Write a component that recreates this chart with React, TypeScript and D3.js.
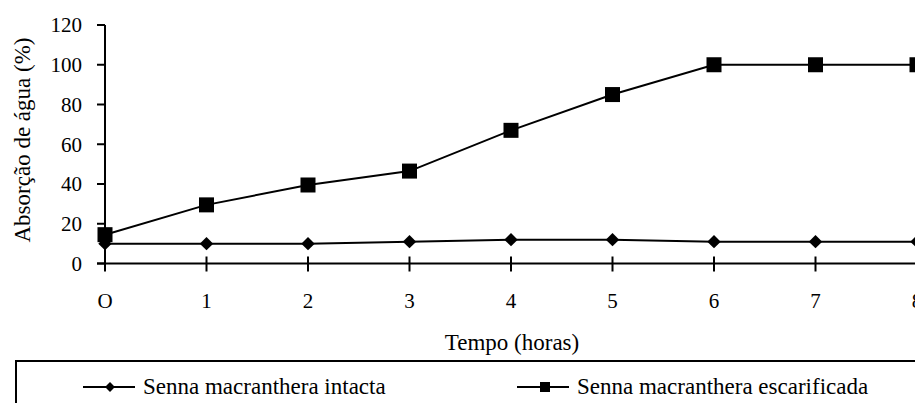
import React, { useRef, useEffect } from "react";
import * as d3 from "d3";

const hours = [0, 1, 2, 3, 4, 5, 6, 7, 8];
const hourLabels = ["O", "1", "2", "3", "4", "5", "6", "7", "8"];
const intacta = [10, 10, 10, 11, 12, 12, 11, 11, 11];
const escarificada = [14.5, 29.5, 39.5, 46.5, 67, 85, 100, 100, 100];
const yTicks = [0, 20, 40, 60, 80, 100, 120];
const seriesNames = ["Senna macranthera intacta", "Senna macranthera escarificada"];

const App = () => {
    const ref = useRef<SVGSVGElement | null>(null);

    useEffect(() => {
        document.body.style.margin = "0";
        const svg = d3.select(ref.current);
        svg.selectAll("*").remove();

        const x = d3.scaleLinear().domain([0, 8]).range([105, 917]);
        const y = d3.scaleLinear().domain([0, 120]).range([263.5, 25]);

        // Y axis
        const yAxis = svg.append("g");
        yAxis
            .append("line")
            .attr("x1", x(0))
            .attr("x2", x(0))
            .attr("y1", y(120))
            .attr("y2", y(0) + 8)
            .attr("stroke", "#000")
            .attr("stroke-width", 2);
        yAxis
            .selectAll("line.tick")
            .data(yTicks)
            .join("line")
            .attr("class", "tick")
            .attr("x1", x(0) - 8)
            .attr("x2", x(0))
            .attr("y1", (d) => y(d))
            .attr("y2", (d) => y(d))
            .attr("stroke", "#000")
            .attr("stroke-width", 2);
        yAxis
            .selectAll("text")
            .data(yTicks)
            .join("text")
            .attr("x", 82)
            .attr("y", (d) => y(d))
            .attr("dy", "0.35em")
            .attr("text-anchor", "end")
            .attr("font-size", 21)
            .text((d) => d);

        // X axis
        const xAxis = svg.append("g");
        xAxis
            .append("line")
            .attr("x1", x(0) - 8)
            .attr("x2", 915)
            .attr("y1", y(0))
            .attr("y2", y(0))
            .attr("stroke", "#000")
            .attr("stroke-width", 2);
        xAxis
            .selectAll("line.tick")
            .data(hours.slice(1))
            .join("line")
            .attr("class", "tick")
            .attr("x1", (d) => x(d))
            .attr("x2", (d) => x(d))
            .attr("y1", y(0) - 7)
            .attr("y2", y(0) + 8)
            .attr("stroke", "#000")
            .attr("stroke-width", 2);
        xAxis
            .selectAll("text")
            .data(hours)
            .join("text")
            .attr("x", (d) => x(d))
            .attr("y", 308)
            .attr("text-anchor", "middle")
            .attr("font-size", 21)
            .text((d, i) => hourLabels[i]);

        // Axis titles
        svg.append("text")
            .attr("x", 512)
            .attr("y", 350)
            .attr("text-anchor", "middle")
            .attr("font-size", 23)
            .text("Tempo (horas)");
        svg.append("text")
            .attr("transform", "translate(30,140) rotate(-90)")
            .attr("text-anchor", "middle")
            .attr("font-size", 23)
            .text("Absorção de água (%)");

        const line = d3
            .line<number>()
            .x((d, i) => x(hours[i]))
            .y((d) => y(d));

        // Intacta series
        svg.append("path")
            .attr("d", line(intacta))
            .attr("fill", "none")
            .attr("stroke", "#000")
            .attr("stroke-width", 2);
        svg.selectAll("rect.diamond")
            .data(intacta)
            .join("rect")
            .attr("class", "diamond")
            .attr("width", 9.5)
            .attr("height", 9.5)
            .attr("transform", (d, i) => `translate(${x(hours[i])},${y(d)}) rotate(45) translate(-4.75,-4.75)`)
            .attr("fill", "#000");

        // Escarificada series
        svg.append("path")
            .attr("d", line(escarificada))
            .attr("fill", "none")
            .attr("stroke", "#000")
            .attr("stroke-width", 2);
        svg.selectAll("rect.square")
            .data(escarificada)
            .join("rect")
            .attr("class", "square")
            .attr("x", (d, i) => x(hours[i]) - 7.5)
            .attr("y", (d) => y(d) - 7.5)
            .attr("width", 15)
            .attr("height", 15)
            .attr("fill", "#000");

        // Legend
        const legend = svg.append("g");
        legend
            .append("rect")
            .attr("x", 16)
            .attr("y", 361)
            .attr("width", 920)
            .attr("height", 60)
            .attr("fill", "none")
            .attr("stroke", "#000")
            .attr("stroke-width", 2);
        const lx = [83, 517];
        lx.forEach((x0, i) => {
            legend
                .append("line")
                .attr("x1", x0)
                .attr("x2", x0 + 52)
                .attr("y1", 387)
                .attr("y2", 387)
                .attr("stroke", "#000")
                .attr("stroke-width", 2);
            if (i === 0) {
                legend
                    .append("rect")
                    .attr("width", 7)
                    .attr("height", 7)
                    .attr("transform", `translate(${x0 + 27},387) rotate(45) translate(-3.5,-3.5)`)
                    .attr("fill", "#000");
            } else {
                legend
                    .append("rect")
                    .attr("x", x0 + 28 - 5)
                    .attr("y", 382)
                    .attr("width", 10)
                    .attr("height", 10)
                    .attr("fill", "#000");
            }
            legend
                .append("text")
                .attr("x", x0 + 60)
                .attr("y", 394)
                .attr("font-size", 23)
                .text(seriesNames[i]);
        });
    }, []);

    return (
        <svg
            ref={ref}
            width={915}
            height={403}
            style={{ display: "block", background: "#fff", fontFamily: '"Liberation Serif", "DejaVu Serif", serif' }}
        />
    );
};

export default App;
